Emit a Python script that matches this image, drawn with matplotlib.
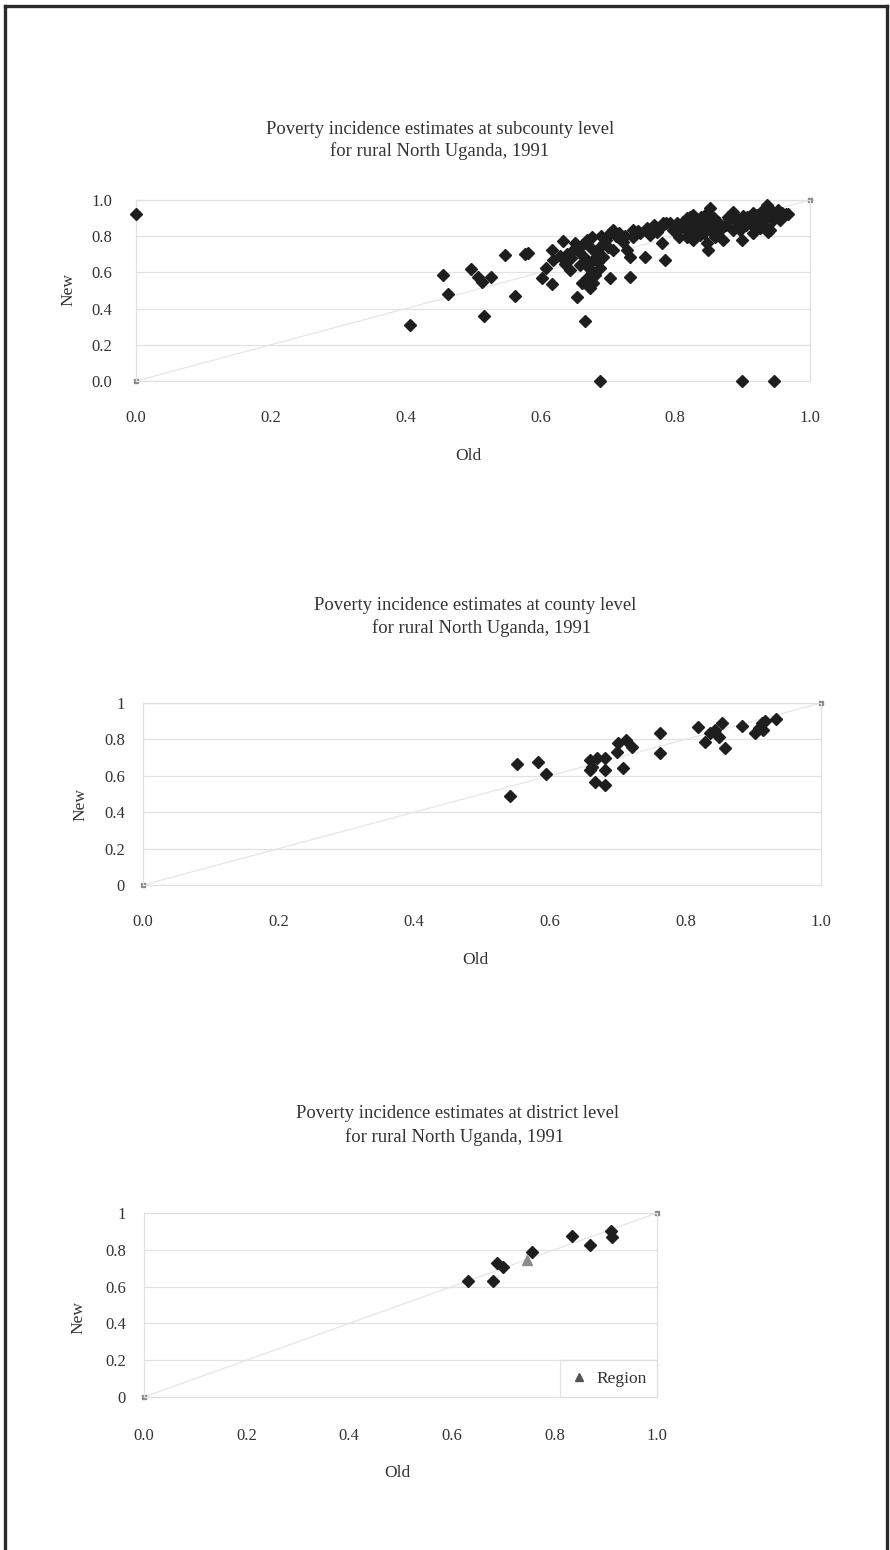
import matplotlib
matplotlib.use("Agg")
import matplotlib.pyplot as plt
from matplotlib.lines import Line2D

plt.rcParams['font.family'] = ['Liberation Serif', 'DejaVu Serif']

W, H = 890, 1550

# ---- data -------------------------------------------------------------
sub_old = [
    0.000, 0.688, 0.899, 0.946, 0.406, 0.456, 0.463, 0.497, 0.508, 0.513,
    0.526, 0.517, 0.547, 0.562, 0.577, 0.582, 0.602, 0.617, 0.617, 0.619,
    0.609, 0.634, 0.644, 0.646, 0.649, 0.654, 0.666, 0.661, 0.669, 0.676,
    0.674, 0.664, 0.659, 0.671, 0.678, 0.676, 0.669, 0.678, 0.674, 0.683,
    0.688, 0.693, 0.688, 0.698, 0.703, 0.708, 0.716, 0.728, 0.733, 0.733,
    0.738, 0.748, 0.755, 0.768, 0.777, 0.787, 0.780, 0.785, 0.792, 0.805,
    0.704, 0.708, 0.718, 0.738, 0.758, 0.763, 0.773, 0.782, 0.797, 0.807,
    0.802, 0.817, 0.827, 0.837, 0.847, 0.852, 0.822, 0.832, 0.842, 0.852,
    0.862, 0.857, 0.817, 0.827, 0.837, 0.847, 0.859, 0.866, 0.849, 0.827,
    0.839, 0.871, 0.879, 0.886, 0.891, 0.896, 0.899, 0.906, 0.911, 0.916,
    0.923, 0.931, 0.936, 0.938, 0.941, 0.946, 0.953, 0.955, 0.965, 0.916,
    0.886, 0.926, 0.967, 0.937, 0.640, 0.652, 0.657, 0.668, 0.685, 0.695,
    0.700, 0.690, 0.712, 0.722, 0.726, 0.745, 0.629, 0.636, 0.681, 0.662,
    0.812, 0.822, 0.832, 0.845, 0.855, 0.818, 0.842, 0.860, 0.835, 0.826,
    0.850, 0.864, 0.875, 0.880, 0.900, 0.915, 0.922, 0.945, 0.950, 0.930,
    0.905, 0.890, 0.958, 0.940,
]
sub_new = [
    0.920, 0.000, 0.000, 0.000, 0.310, 0.586, 0.481, 0.617, 0.573, 0.549,
    0.573, 0.357, 0.696, 0.470, 0.702, 0.709, 0.567, 0.536, 0.724, 0.669,
    0.622, 0.775, 0.613, 0.678, 0.724, 0.466, 0.331, 0.751, 0.779, 0.797,
    0.742, 0.687, 0.641, 0.632, 0.669, 0.595, 0.567, 0.540, 0.512, 0.705,
    0.742, 0.687, 0.623, 0.779, 0.816, 0.724, 0.816, 0.724, 0.687, 0.573,
    0.834, 0.816, 0.687, 0.862, 0.844, 0.871, 0.761, 0.669, 0.871, 0.797,
    0.567, 0.834, 0.788, 0.797, 0.844, 0.807, 0.825, 0.871, 0.834, 0.853,
    0.871, 0.899, 0.917, 0.890, 0.926, 0.954, 0.853, 0.834, 0.862, 0.834,
    0.871, 0.899, 0.797, 0.779, 0.807, 0.761, 0.797, 0.834, 0.724, 0.871,
    0.908, 0.779, 0.908, 0.935, 0.880, 0.834, 0.779, 0.908, 0.871, 0.926,
    0.890, 0.945, 0.972, 0.908, 0.834, 0.926, 0.945, 0.890, 0.923, 0.816,
    0.834, 0.844, 0.924, 0.822, 0.700, 0.760, 0.712, 0.655, 0.660, 0.760,
    0.740, 0.800, 0.800, 0.770, 0.800, 0.830, 0.690, 0.648, 0.585, 0.540,
    0.880, 0.905, 0.870, 0.880, 0.855, 0.830, 0.820, 0.840, 0.850, 0.818,
    0.905, 0.880, 0.860, 0.895, 0.910, 0.880, 0.915, 0.890, 0.915, 0.870,
    0.860, 0.900, 0.930, 0.950,
]

county_old = [
    0.541, 0.551, 0.583, 0.594, 0.659, 0.662, 0.669, 0.681, 0.681, 0.667,
    0.681, 0.659, 0.699, 0.701, 0.713, 0.721, 0.708, 0.762, 0.762, 0.819,
    0.829, 0.836, 0.844, 0.849, 0.854, 0.858, 0.883, 0.903, 0.908, 0.913,
    0.917, 0.915, 0.934,
]
county_new = [
    0.489, 0.665, 0.677, 0.610, 0.687, 0.650, 0.696, 0.696, 0.632, 0.568,
    0.549, 0.632, 0.732, 0.778, 0.797, 0.760, 0.641, 0.834, 0.727, 0.870,
    0.788, 0.834, 0.852, 0.815, 0.892, 0.751, 0.874, 0.834, 0.861, 0.888,
    0.903, 0.852, 0.910,
]

district_old = [0.631, 0.681, 0.689, 0.700, 0.757, 0.835, 0.869, 0.910, 0.913]
district_new = [0.630, 0.630, 0.728, 0.705, 0.788, 0.873, 0.824, 0.902, 0.870]

region_old = [0.747]
region_new = [0.743]

ref_line = [0.0, 1.0]

tick_values = [0.0, 0.2, 0.4, 0.6, 0.8, 1.0]
x_tick_labels = ['0.0', '0.2', '0.4', '0.6', '0.8', '1.0']
y_tick_labels_dec = ['0.0', '0.2', '0.4', '0.6', '0.8', '1.0']
y_tick_labels_int = ['0', '0.2', '0.4', '0.6', '0.8', '1']

title_sub = ["Poverty incidence estimates at subcounty level",
             "for rural North Uganda, 1991"]
title_county = ["Poverty incidence estimates at county level",
                "for rural North Uganda, 1991"]
title_district = ["Poverty incidence estimates at district level",
                  "for rural North Uganda, 1991"]

# ---- figure -----------------------------------------------------------
fig = plt.figure(figsize=(W / 100, H / 100), dpi=100)
fig.patch.set_facecolor('white')

TEXT = '#333333'
FS_TICK = 12
FS_LABEL = 12.5
FS_TITLE = 13.4


def axes_px(left, right, top, bottom):
    return fig.add_axes([left / W, 1 - bottom / H,
                         (right - left) / W, (bottom - top) / H])


def fig_text(x, y, s, **kw):
    fig.text(x / W, 1 - y / H, s, color=TEXT, **kw)


def panel(box, old, new, ylabels, xpad, ypad):
    ax = axes_px(*box)
    ax.set_xlim(0, 1)
    ax.set_ylim(0, 1)
    ax.plot(ref_line, ref_line, color='#e6e6e6', lw=0.9, marker='s',
            ms=3.2, mfc='#8a8a8a', mec='#8a8a8a', clip_on=False, zorder=2)
    ax.plot(old, new, linestyle='none', marker='D', ms=5.9,
            color='#1e1e1e', clip_on=False, zorder=3)
    ax.set_xticks(tick_values)
    ax.set_xticklabels(x_tick_labels)
    ax.set_yticks(tick_values)
    ax.set_yticklabels(ylabels)
    ax.tick_params(length=0, labelsize=FS_TICK, labelcolor=TEXT)
    ax.tick_params(axis='x', pad=xpad)
    ax.tick_params(axis='y', pad=ypad)
    ax.yaxis.grid(True, color='#e2e2e2', lw=0.9)
    ax.set_axisbelow(True)
    for sp in ax.spines.values():
        sp.set_color('#e0e0e0')
        sp.set_linewidth(0.9)
    return ax


# subcounty panel
ax1 = panel((136, 810, 200, 381), sub_old, sub_new, y_tick_labels_dec,
            xpad=21, ypad=17)
fig_text(440, 130, title_sub[0], ha='center', va='center', fontsize=FS_TITLE)
fig_text(440, 151, title_sub[1], ha='center', va='center', fontsize=FS_TITLE)
fig_text(468, 456, "Old", ha='center', va='center', fontsize=FS_LABEL)
fig_text(68, 290, "New", ha='center', va='center', rotation=90,
         fontsize=FS_LABEL)

# county panel
ax2 = panel((143, 821, 703, 885), county_old, county_new, y_tick_labels_int,
            xpad=21, ypad=13)
fig_text(475, 606, title_county[0], ha='center', va='center',
         fontsize=FS_TITLE)
fig_text(482, 628, title_county[1], ha='center', va='center',
         fontsize=FS_TITLE)
fig_text(475, 960, "Old", ha='center', va='center', fontsize=FS_LABEL)
fig_text(80, 805, "New", ha='center', va='center', rotation=90,
         fontsize=FS_LABEL)

# district panel
ax3 = panel((144, 657, 1213, 1397), district_old, district_new,
            y_tick_labels_int, xpad=22, ypad=13)
ax3.plot(region_old, region_new, linestyle='none', marker='^', ms=6.5,
         color='#8c8c8c', zorder=4)
handle = Line2D([], [], linestyle='none', marker='^', ms=6,
                color='#555555')
leg = ax3.legend([handle], ['Region'], loc='lower right', frameon=True,
                 fancybox=False, borderaxespad=0.0, fontsize=FS_LABEL,
                 handlelength=1.0, handletextpad=0.5, borderpad=0.6,
                 labelcolor=TEXT)
leg.get_frame().set_edgecolor('#dcdcdc')
leg.get_frame().set_linewidth(0.9)
fig_text(458, 1114, title_district[0], ha='center', va='center',
         fontsize=FS_TITLE)
fig_text(455, 1137, title_district[1], ha='center', va='center',
         fontsize=FS_TITLE)
fig_text(397, 1473, "Old", ha='center', va='center', fontsize=FS_LABEL)
fig_text(78, 1318, "New", ha='center', va='center', rotation=90,
         fontsize=FS_LABEL)

# page frame
frame_kw = dict(color='#2a2a2a', lw=2.4, transform=fig.transFigure)
fig.add_artist(Line2D([5 / W, 887 / W], [1 - 6 / H, 1 - 6 / H], **frame_kw))
fig.add_artist(Line2D([5 / W, 5 / W], [1 - 6 / H, 0], **frame_kw))
fig.add_artist(Line2D([887 / W, 887 / W], [1 - 6 / H, 0], **frame_kw))

fig.savefig('out.png', dpi=100, facecolor='white')
